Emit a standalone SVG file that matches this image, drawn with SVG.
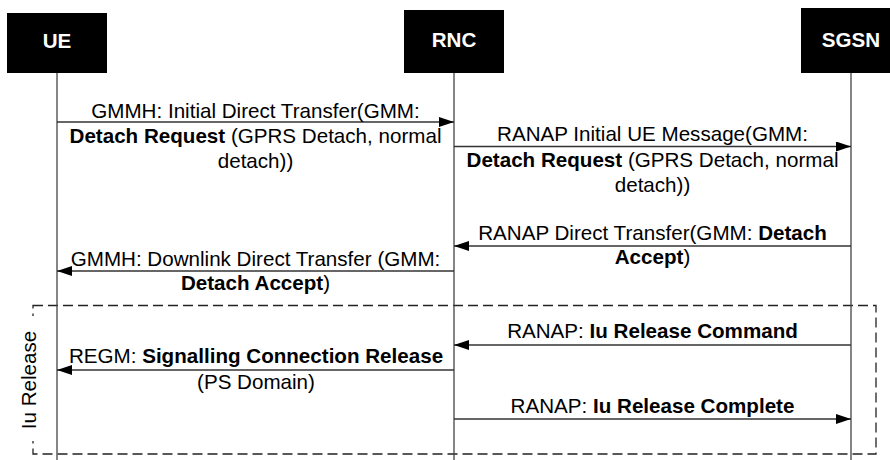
<svg xmlns="http://www.w3.org/2000/svg" width="890" height="460" viewBox="0 0 890 460">
<defs>
<marker id="ah" markerWidth="15" markerHeight="10" refX="15" refY="5" orient="auto" markerUnits="userSpaceOnUse">
<path d="M0,0 L15,5 L0,10 z" fill="#000"/>
</marker>
<style>
.box{fill:#000}
.hd{font-family:"Liberation Sans",Arial,sans-serif;font-size:20.6px;font-weight:bold;fill:#fff;text-anchor:middle}
.life{stroke:#444;stroke-width:1.3;fill:none}
.msg{stroke:#333;stroke-width:1.3;fill:none;marker-end:url(#ah)}
.t{font-family:"Liberation Sans",Arial,sans-serif;font-size:20.6px;fill:#000;text-anchor:middle}
.b{font-weight:bold}
.frame{fill:none;stroke:#222;stroke-width:1.3;stroke-dasharray:10 5}
</style>
</defs>
<rect width="890" height="460" fill="#fff"/>
<g id="frame-iu-release">
<rect class="frame" x="33" y="305.5" width="843" height="148.5"/>
<rect x="18" y="316" width="22" height="125" fill="#fff"/>
<text class="t" transform="translate(36,380) rotate(-90)">Iu Release</text>
</g>
<g id="UE">
<rect class="box" x="7" y="13" width="100" height="60"/>
<text class="hd" x="57" y="48">UE</text>
<line class="life" x1="57" y1="73" x2="57" y2="460"/>
</g>
<g id="RNC">
<rect class="box" x="404" y="10" width="100" height="63"/>
<text class="hd" x="454" y="47">RNC</text>
<line class="life" x1="454" y1="73" x2="454" y2="460"/>
</g>
<g id="SGSN">
<rect class="box" x="801" y="8" width="100" height="65"/>
<text class="hd" x="851" y="47">SGSN</text>
<line class="life" x1="851" y1="73" x2="851" y2="460"/>
</g>
<g id="connectors">
<line class="msg" x1="57" y1="122" x2="454" y2="122"/>
<line class="msg" x1="454" y1="146.5" x2="851" y2="146.5"/>
<line class="msg" x1="851" y1="246" x2="454" y2="246"/>
<line class="msg" x1="454" y1="271" x2="57" y2="271"/>
<line class="msg" x1="851" y1="345" x2="454" y2="345"/>
<line class="msg" x1="454" y1="370" x2="57" y2="370"/>
<line class="msg" x1="454" y1="419" x2="851" y2="419"/>
</g>
<g id="labels">
<text class="t" x="255.5" y="118">GMMH: Initial Direct Transfer(GMM:</text>
<text class="t" x="255.5" y="143"><tspan class="b">Detach Request</tspan> (GPRS Detach, normal</text>
<text class="t" x="255.5" y="168">detach))</text>
<text class="t" x="652.5" y="141">RANAP Initial UE Message(GMM:</text>
<text class="t" x="652.5" y="167"><tspan class="b">Detach Request</tspan> (GPRS Detach, normal</text>
<text class="t" x="652.5" y="192">detach))</text>
<text class="t" x="652.5" y="240">RANAP Direct Transfer(GMM: <tspan class="b">Detach</tspan></text>
<text class="t" x="652.5" y="264"><tspan class="b">Accept</tspan>)</text>
<text class="t" x="255.5" y="265.5">GMMH: Downlink Direct Transfer (GMM:</text>
<text class="t" x="255.5" y="290"><tspan class="b">Detach Accept</tspan>)</text>
<text class="t" x="652.5" y="338">RANAP: <tspan class="b">Iu Release Command</tspan></text>
<text class="t" x="256" y="363">REGM: <tspan class="b">Signalling Connection Release</tspan></text>
<text class="t" x="256" y="389">(PS Domain)</text>
<text class="t" x="652.5" y="413">RANAP: <tspan class="b">Iu Release Complete</tspan></text>
</g>
</svg>
